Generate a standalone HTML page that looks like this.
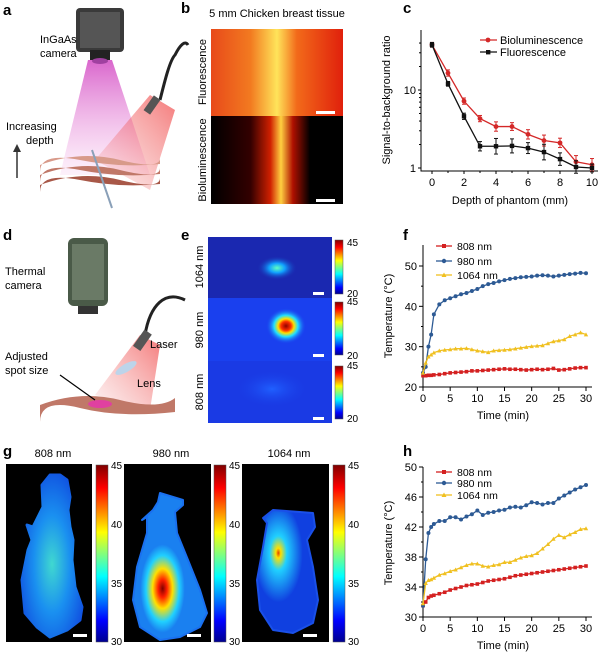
<!DOCTYPE html>
<html><head><meta charset="utf-8"><style>
body{margin:0;background:#fff}
svg{display:block;font-family:"Liberation Sans",Arial,sans-serif}
</style></head><body>
<svg id="fig" width="600" height="653" viewBox="0 0 600 653" xmlns="http://www.w3.org/2000/svg">
<defs>
<linearGradient id="jet" x1="0" y1="1" x2="0" y2="0">
<stop offset="0" stop-color="#00008f"/><stop offset="0.12" stop-color="#0000ff"/><stop offset="0.37" stop-color="#00ffff"/><stop offset="0.62" stop-color="#ffff00"/><stop offset="0.87" stop-color="#ff0000"/><stop offset="1" stop-color="#800000"/></linearGradient>
<linearGradient id="fluo" x1="0" x2="1"><stop offset="0" stop-color="#e84a1a"/><stop offset="0.3" stop-color="#f27a20"/><stop offset="0.5" stop-color="#ffe45a"/><stop offset="0.65" stop-color="#f26a1a"/><stop offset="1" stop-color="#e0200c"/></linearGradient>
<linearGradient id="biol" x1="0" x2="1"><stop offset="0" stop-color="#000"/><stop offset="0.3" stop-color="#300"/><stop offset="0.45" stop-color="#d02000"/><stop offset="0.53" stop-color="#ffd040"/><stop offset="0.62" stop-color="#b01000"/><stop offset="0.75" stop-color="#000"/><stop offset="1" stop-color="#000"/></linearGradient>
<radialGradient id="spot1"><stop offset="0" stop-color="#60ffc0"/><stop offset="0.4" stop-color="#10a0ff"/><stop offset="1" stop-color="#1a2ab0" stop-opacity="0"/></radialGradient>
<radialGradient id="spot2"><stop offset="0" stop-color="#900000"/><stop offset="0.25" stop-color="#ff3000"/><stop offset="0.4" stop-color="#ffe000"/><stop offset="0.6" stop-color="#20e0ff"/><stop offset="1" stop-color="#1a40f0" stop-opacity="0"/></radialGradient>
<radialGradient id="spot3"><stop offset="0" stop-color="#2060ff"/><stop offset="1" stop-color="#1a40e8" stop-opacity="0"/></radialGradient>
<radialGradient id="m1" cx="0.5" cy="0.55" r="0.6"><stop offset="0" stop-color="#40d8d0"/><stop offset="0.5" stop-color="#1a90f0"/><stop offset="1" stop-color="#1050e0"/></radialGradient>
<radialGradient id="m2" cx="0.4" cy="0.65" r="0.3"><stop offset="0" stop-color="#800000"/><stop offset="0.2" stop-color="#ff2000"/><stop offset="0.45" stop-color="#ffe000"/><stop offset="0.75" stop-color="#20d0ff"/><stop offset="1" stop-color="#1a80f0"/></radialGradient>
<radialGradient id="m3" cx="0.35" cy="0.35" r="0.4"><stop offset="0" stop-color="#e04000"/><stop offset="0.1" stop-color="#ffe000"/><stop offset="0.35" stop-color="#20d0ff"/><stop offset="1" stop-color="#1040e0"/></radialGradient>
<linearGradient id="beam" x1="0" y1="0" x2="0" y2="1"><stop offset="0" stop-color="#d040c0" stop-opacity="0.8"/><stop offset="1" stop-color="#f0a0e0" stop-opacity="0.15"/></linearGradient>
<linearGradient id="laser" x1="1" y1="0" x2="0" y2="1"><stop offset="0" stop-color="#f04040" stop-opacity="0.7"/><stop offset="1" stop-color="#f08080" stop-opacity="0.1"/></linearGradient>
</defs>

<g font-weight="bold" font-size="15" fill="#000">
<text x="3" y="15">a</text>
<text x="181" y="13">b</text>
<text x="403" y="13">c</text>
<text x="3" y="240">d</text>
<text x="181" y="240">e</text>
<text x="403" y="240">f</text>
<text x="3" y="456">g</text>
<text x="403" y="456">h</text>
</g>

<!-- panel a -->
<g>
<path d="M88,60 L60,175 L150,175 L112,60 Z" fill="url(#beam)"/>
<path d="M150,95 L95,160 L150,190 L175,110 Z" fill="url(#laser)"/>
<rect x="76" y="8" width="48" height="44" rx="4" fill="#3a3a3a"/>
<rect x="80" y="12" width="40" height="36" fill="#555"/>
<rect x="90" y="50" width="20" height="10" fill="#222"/>
<ellipse cx="100" cy="61" rx="8" ry="3" fill="#a040a0"/>
<path d="M160,100 C165,80 170,60 175,55 C180,45 185,40 188,45" stroke="#222" stroke-width="3" fill="none"/>
<rect x="148" y="96" width="8" height="18" fill="#555" transform="rotate(35 152 105)"/>
<path d="M40,165 Q80,150 120,160 T160,158 L160,164 Q120,168 80,160 T40,172 Z" fill="#d89a8a"/>
<path d="M40,175 Q80,160 120,170 T160,168 L160,174 Q120,178 80,170 T40,182 Z" fill="#c07868"/>
<path d="M40,185 Q80,170 120,180 T160,178 L160,184 Q120,188 80,180 T40,192 Z" fill="#a85848"/>
<line x1="92" y1="150" x2="112" y2="208" stroke="#8aa0b8" stroke-width="2"/>
<line x1="17" y1="178" x2="17" y2="148" stroke="#333" stroke-width="1.5"/>
<path d="M13,152 L17,144 L21,152 Z" fill="#333"/>
<text x="40" y="43" font-size="11">InGaAs</text>
<text x="40" y="57" font-size="11">camera</text>
<text x="6" y="130" font-size="11">Increasing</text>
<text x="26" y="144" font-size="11">depth</text>
</g>

<!-- panel b -->
<g>
<text x="277" y="17" font-size="11" text-anchor="middle">5 mm Chicken breast tissue</text>
<rect x="211" y="29" width="132" height="87" fill="url(#fluo)"/>
<rect x="211" y="116" width="132" height="88" fill="url(#biol)"/>
<rect x="316" y="111" width="19" height="3" fill="#fff"/>
<rect x="316" y="199" width="19" height="3" fill="#fff"/>
<text transform="translate(206,72) rotate(-90)" font-size="11" text-anchor="middle">Fluorescence</text>
<text transform="translate(206,160) rotate(-90)" font-size="11" text-anchor="middle">Bioluminescence</text>
</g>

<!-- panel d -->
<g>
<path d="M140,335 L95,395 L150,410 L160,345 Z" fill="url(#laser)"/>
<rect x="68" y="238" width="40" height="68" rx="6" fill="#4a5a48"/>
<rect x="72" y="244" width="32" height="56" fill="#6a7a66"/>
<rect x="78" y="306" width="20" height="8" fill="#333"/>
<path d="M145,335 C150,305 165,290 185,300" stroke="#222" stroke-width="3" fill="none"/>
<rect x="138" y="330" width="9" height="20" fill="#555" transform="rotate(35 142 340)"/>
<ellipse cx="126" cy="368" rx="12" ry="4" fill="#bcd4ea" transform="rotate(-30 126 368)"/>
<path d="M40,405 Q80,390 120,400 T175,398 L175,412 Q120,418 80,408 T40,422 Z" fill="#c07868"/>
<ellipse cx="100" cy="404" rx="12" ry="4" fill="#e040a0"/>
<line x1="60" y1="375" x2="95" y2="400" stroke="#000" stroke-width="1.2"/>
<text x="5" y="275" font-size="11">Thermal</text>
<text x="5" y="289" font-size="11">camera</text>
<text x="150" y="348" font-size="11">Laser</text>
<text x="137" y="387" font-size="11">Lens</text>
<text x="5" y="360" font-size="11">Adjusted</text>
<text x="5" y="374" font-size="11">spot size</text>
</g>

<!-- panel e -->
<g>
<rect x="208" y="237" width="124" height="61" fill="#1a28b0"/>
<ellipse cx="277" cy="268" rx="20" ry="12" fill="url(#spot1)"/>
<rect x="208" y="298" width="124" height="63" fill="#1a40ee"/>
<ellipse cx="286" cy="326" rx="20" ry="18" fill="url(#spot2)"/>
<rect x="208" y="361" width="124" height="62" fill="#1a3ae4"/>
<ellipse cx="272" cy="389" rx="35" ry="18" fill="url(#spot3)"/>
<rect x="313" y="292" width="11" height="3" fill="#fff"/>
<rect x="313" y="354" width="11" height="3" fill="#fff"/>
<rect x="313" y="417" width="11" height="3" fill="#fff"/>
<text transform="translate(203,267) rotate(-90)" font-size="11" text-anchor="middle">1064 nm</text>
<text transform="translate(203,330) rotate(-90)" font-size="11" text-anchor="middle">980 nm</text>
<text transform="translate(203,392) rotate(-90)" font-size="11" text-anchor="middle">808 nm</text>
<g font-size="10">
<rect x="335" y="240" width="8" height="54" fill="url(#jet)" stroke="#555" stroke-width="0.5"/>
<text x="347" y="246">45</text><text x="347" y="297">20</text>
<rect x="335" y="302" width="8" height="53" fill="url(#jet)" stroke="#555" stroke-width="0.5"/>
<text x="347" y="305">45</text><text x="347" y="359">20</text>
<rect x="335" y="366" width="8" height="53" fill="url(#jet)" stroke="#555" stroke-width="0.5"/>
<text x="347" y="369">45</text><text x="347" y="422">20</text>
</g>
</g>

<!-- panel g -->
<g font-size="11">
<text x="53" y="457" text-anchor="middle">808 nm</text>
<text x="171" y="457" text-anchor="middle">980 nm</text>
<text x="289" y="457" text-anchor="middle">1064 nm</text>
<rect x="6" y="464" width="86" height="178" fill="#000"/>
<path d="M50,475 L42,485 L43,507 L33,527 L27,525 L32,540 L28,550 L22,580 L25,613 L37,627 L50,637 L67,630 L80,620 L82,607 L75,587 L72,560 L73,540 L70,527 L68,510 L70,497 L67,480 L60,475 Z" fill="url(#m1)" stroke="url(#m1)" stroke-width="3" stroke-linejoin="round"/>
<rect x="73" y="634" width="14" height="3" fill="#fff"/>
<rect x="124" y="464" width="87" height="178" fill="#000"/>
<path d="M160,493 L183,500 L183,505 L175,512 L177,533 L188,560 L200,590 L207,613 L200,627 L180,637 L160,640 L140,627 L133,600 L137,567 L147,533 L147,517 L142,520 L153,510 L158,502 Z" fill="url(#m2)" stroke="#1a70f0" stroke-width="2" stroke-linejoin="round"/>
<rect x="187" y="634" width="14" height="3" fill="#fff"/>
<rect x="242" y="464" width="87" height="178" fill="#000"/>
<path d="M263,518 L273,510 L313,513 L315,527 L307,540 L313,567 L318,600 L313,623 L293,633 L273,630 L260,610 L257,580 L263,547 L267,523 Z" fill="url(#m3)" stroke="#1a50e8" stroke-width="2" stroke-linejoin="round"/>
<rect x="303" y="634" width="14" height="3" fill="#fff"/>
<g font-size="10">
<rect x="96" y="465" width="12" height="177" fill="url(#jet)" stroke="#555" stroke-width="0.5"/>
<text x="111" y="469">45</text><text x="111" y="528">40</text><text x="111" y="587">35</text><text x="111" y="645">30</text>
<rect x="214" y="465" width="12" height="177" fill="url(#jet)" stroke="#555" stroke-width="0.5"/>
<text x="229" y="469">45</text><text x="229" y="528">40</text><text x="229" y="587">35</text><text x="229" y="645">30</text>
<rect x="333" y="465" width="12" height="177" fill="url(#jet)" stroke="#555" stroke-width="0.5"/>
<text x="348" y="469">45</text><text x="348" y="528">40</text><text x="348" y="587">35</text><text x="348" y="645">30</text>
</g>
</g>

<g id="charts"></g>
</svg>
<script>
// Panel c data
const depths = [0,1,2,3,4,5,6,7,8,9,10];
const biolum = [38,16.5,7.2,4.3,3.4,3.4,2.7,2.25,2.1,1.2,1.1];
const biolumErr = [0.03,0.04,0.04,0.04,0.06,0.05,0.06,0.07,0.06,0.08,0.08];
const fluor = [38,12,4.6,1.9,1.9,1.92,1.8,1.6,1.3,1.03,1.0];
const fluorErr = [0.03,0.03,0.04,0.06,0.1,0.09,0.07,0.1,0.08,0.08,0.05];
// Panel f data
const timeF = [0,0.5,1,1.5,2,3,4,5,6,7,8,9,10,11,12,13,14,15,16,17,18,19,20,21,22,23,24,25,26,27,28,29,30];
const f980 = [23.5,25,30,33,38,40.5,41.5,42,42.5,43,43.3,43.8,44.3,45,45.5,45.8,46.2,46.5,46.8,47,47.2,47.3,47.4,47.6,47.7,47.6,47.4,47.6,47.8,48,48.1,48.3,48.2];
const f1064 = [23.5,26,27.5,28,28.5,29,29.2,29.3,29.5,29.5,29.6,29.3,29,28.8,28.6,29,29.1,29.2,29.3,29.5,29.7,29.9,30.1,30.2,30.3,30.8,31.3,31.5,31.8,32.6,33,33.5,33];
const f808 = [22.8,22.8,22.9,22.9,23,23.1,23.3,23.5,23.6,23.7,23.8,24,24,24.1,24.2,24.3,24.4,24.5,24.4,24.4,24.3,24.2,24.3,24.4,24.3,24.4,24.6,24.2,24.3,24.5,24.7,24.8,24.8];
// Panel h data
const timeH = [0,0.5,1,1.5,2,3,4,5,6,7,8,9,10,11,12,13,14,15,16,17,18,19,20,21,22,23,24,25,26,27,28,29,30];
const h980 = [31.5,37.7,41.2,42,42.4,42.8,42.8,43.3,43.3,43,43.4,43.7,44.2,43.6,43.9,44,44.2,44.3,44.6,44.7,44.6,44.9,45.3,45.2,45,45.2,45.2,45.8,46.2,46.6,47,47.3,47.6];
const h1064 = [31.8,34.5,34.9,35,35.2,35.6,35.8,36.1,36.3,36.6,36.9,37.1,37.1,36.8,36.7,36.9,37,37.3,37.3,37.6,37.9,38.1,38.2,38.5,39.1,39.7,40.4,40.9,40.6,41,41.3,41.7,41.8];
const h808 = [31.5,32,32.6,32.8,32.9,33.1,33.3,33.6,33.8,34,34.2,34.3,34.4,34.6,34.8,34.9,35,35.1,35.3,35.5,35.6,35.7,35.8,35.9,36,36.1,36.2,36.3,36.4,36.5,36.6,36.7,36.8];
const ticksF = [20,30,40,50];
const ticksH = [30,34,38,42,46,50];
const ticksT = [0,5,10,15,20,25,30];

const NS="http://www.w3.org/2000/svg";
const root=document.getElementById('charts');
function mk(tag,attrs,parent){const e=document.createElementNS(NS,tag);for(const k in attrs)e.setAttribute(k,attrs[k]);(parent||root).appendChild(e);return e;}
function txt(x,y,s,anchor,size,parent,rot){const t=mk('text',{x:x,y:y,'font-size':size||11,'text-anchor':anchor||'middle'},parent);if(rot)t.setAttribute('transform','rotate(-90 '+x+' '+y+')');t.textContent=s;return t;}

// ---- Panel c ----
const xC=v=>432+v*16;
const yC=v=>168-Math.log10(v)*78;
const gc=mk('g',{});


mk('path',{d:'M421,30 L421,171 L598,171',stroke:'#000',fill:'none','stroke-width':1},gc);
[1,10].forEach(v=>{mk('line',{x1:418,x2:421,y1:yC(v),y2:yC(v),stroke:'#000'},gc);const t=txt(416,yC(v)+4,String(v),'end',11,gc);});
[2,3,4,5,6,7,8,9,20,30,40].forEach(v=>mk('line',{x1:419,x2:421,y1:yC(v),y2:yC(v),stroke:'#000'},gc));
[0,2,4,6,8,10].forEach(v=>{mk('line',{x1:xC(v),x2:xC(v),y1:171,y2:174,stroke:'#000'},gc);txt(xC(v),186,String(v),'middle',11,gc);});
[1,3,5,7,9].forEach(v=>mk('line',{x1:xC(v),x2:xC(v),y1:171,y2:173,stroke:'#000'},gc));
const ct=txt(510,204,'Depth of phantom (mm)','middle',11,gc);
const cy=txt(390,100,'Signal-to-background ratio','middle',11,gc,true);
function seriesC(vals,errs,col,name,sq){
  const g=mk('g',{},gc);
  
  
  mk('polyline',{points:depths.map((d,i)=>xC(d)+','+yC(vals[i])).join(' '),fill:'none',stroke:col,'stroke-width':1.3},g);
  depths.forEach((d,i)=>{
    const lo=vals[i]*Math.pow(10,-errs[i]),hi=vals[i]*Math.pow(10,errs[i]);
    mk('line',{x1:xC(d),x2:xC(d),y1:yC(lo),y2:yC(hi),stroke:col},g);
    mk('line',{x1:xC(d)-2,x2:xC(d)+2,y1:yC(lo),y2:yC(lo),stroke:col},g);
    mk('line',{x1:xC(d)-2,x2:xC(d)+2,y1:yC(hi),y2:yC(hi),stroke:col},g);
    let m;
    if(sq)m=mk('rect',{x:xC(d)-2.2,y:yC(vals[i])-2.2,width:4.4,height:4.4,fill:col},g);
    else m=mk('circle',{cx:xC(d),cy:yC(vals[i]),r:2.4,fill:col},g);
    
    
  });
}
seriesC(biolum,biolumErr,'#d42828','series-bioluminescence',false);
seriesC(fluor,fluorErr,'#111','series-fluorescence',true);
const lgc=mk('g',{},gc);


mk('line',{x1:480,x2:497,y1:40,y2:40,stroke:'#d42828','stroke-width':1.3},lgc);mk('circle',{cx:488,cy:40,r:2.4,fill:'#d42828'},lgc);
txt(500,44,'Bioluminescence','start',11,lgc);
mk('line',{x1:480,x2:497,y1:52,y2:52,stroke:'#111','stroke-width':1.3},lgc);mk('rect',{x:486,y:50,width:4.4,height:4.4,fill:'#111'},lgc);
txt(500,56,'Fluorescence','start',11,lgc);

// ---- Temperature charts ----
const COL={r:'#d42020',b:'#2d5a94',y:'#f0c020'};
function tempChart(opt){
  const g=mk('g',{});
  
  
  const xS=t=>423+t*163/30;
  const yS=v=>opt.y0-(v-opt.vmin)*(opt.y0-opt.y1)/(opt.vmax-opt.vmin);
  mk('path',{d:'M423,'+opt.top+' L423,'+opt.y0+' L592,'+opt.y0,stroke:'#000',fill:'none'},g);
  opt.ticks.forEach(v=>{mk('line',{x1:419,x2:423,y1:yS(v),y2:yS(v),stroke:'#000'},g);txt(417,yS(v)+4,String(v),'end',11,g);});
  for(let i=0;i<opt.ticks.length-1;i++){const m=(opt.ticks[i]+opt.ticks[i+1])/2;mk('line',{x1:421,x2:423,y1:yS(m),y2:yS(m),stroke:'#000'},g);}
  ticksT.forEach(t=>{mk('line',{x1:xS(t),x2:xS(t),y1:opt.y0,y2:opt.y0+4,stroke:'#000'},g);txt(xS(t),opt.y0+15,String(t),'middle',11,g);});
  const xt=txt(503,opt.xtY,'Time (min)','middle',11,g);
  const yt=txt(392,opt.ytC,'Temperature (°C)','middle',11,g,true);
  opt.series.forEach(s=>{
    const sg=mk('g',{},g);
    
    
    mk('polyline',{points:opt.time.map((t,i)=>xS(t)+','+yS(s.vals[i])).join(' '),fill:'none',stroke:s.col,'stroke-width':1.3},sg);
    opt.time.forEach((t,i)=>{const x=xS(t),y=yS(s.vals[i]);
      if(s.m==='s')mk('rect',{x:x-1.8,y:y-1.8,width:3.6,height:3.6,fill:s.col},sg);
      else if(s.m==='c')mk('circle',{cx:x,cy:y,r:2,fill:s.col},sg);
      else mk('path',{d:'M'+(x-2.2)+','+(y+1.8)+' L'+x+','+(y-2.2)+' L'+(x+2.2)+','+(y+1.8)+'Z',fill:s.col},sg);});
  });
  const lg=mk('g',{},g);
  
  
  opt.series.forEach((s,i)=>{const y=opt.legY[i];
    mk('line',{x1:436,x2:452,y1:y,y2:y,stroke:s.col,'stroke-width':1.3},lg);
    if(s.m==='s')mk('rect',{x:442,y:y-2,width:4,height:4,fill:s.col},lg);
    else if(s.m==='c')mk('circle',{cx:444,cy:y,r:2.2,fill:s.col},lg);
    else mk('path',{d:'M441.5,'+(y+2)+' L444,'+(y-2.5)+' L446.5,'+(y+2)+'Z',fill:s.col},lg);
    txt(457,y+4,s.label,'start',10.5,lg);});
}
tempChart({name:'chart-f',top:245,y0:387,y1:266,vmin:20,vmax:50,ticks:ticksF,time:timeF,xtY:419,ytC:316,legY:[246,261,275],
  series:[{name:'series-f-808',label:'808 nm',vals:f808,col:COL.r,m:'s'},{name:'series-f-980',label:'980 nm',vals:f980,col:COL.b,m:'c'},{name:'series-f-1064',label:'1064 nm',vals:f1064,col:COL.y,m:'t'}]});
tempChart({name:'chart-h',top:467,y0:617,y1:467,vmin:30,vmax:50,ticks:ticksH,time:timeH,xtY:649,ytC:543,legY:[472,483,495],
  series:[{name:'series-h-808',label:'808 nm',vals:h808,col:COL.r,m:'s'},{name:'series-h-980',label:'980 nm',vals:h980,col:COL.b,m:'c'},{name:'series-h-1064',label:'1064 nm',vals:h1064,col:COL.y,m:'t'}]});
</script>
</body></html>
